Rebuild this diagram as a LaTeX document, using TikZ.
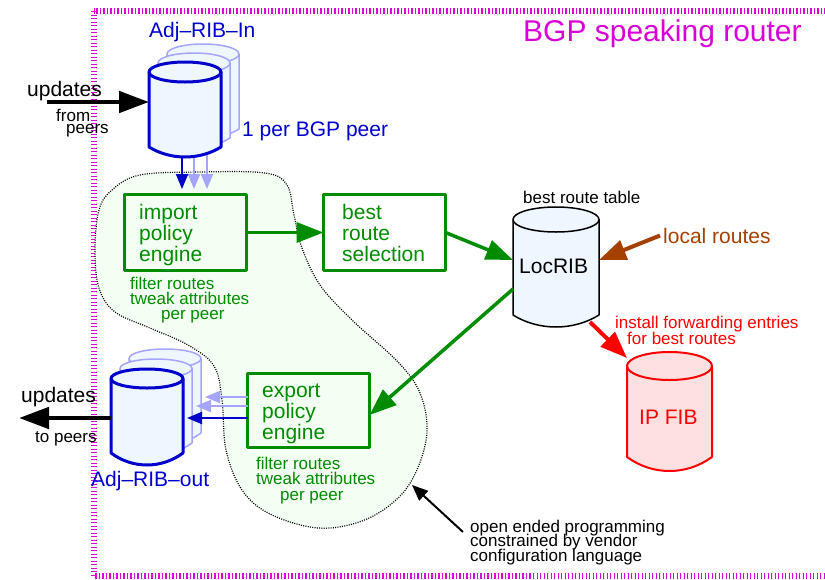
\documentclass[tikz,border=0pt]{standalone}
\usepackage{fontspec}
\setmainfont{Liberation Sans}
\usetikzlibrary{arrows.meta,calc}

\definecolor{framemag}{RGB}{215,0,215}
\definecolor{ribblue}{RGB}{0,0,205}
\definecolor{ribpale}{RGB}{165,165,255}
\definecolor{drumfill}{RGB}{238,246,255}
\definecolor{polgreen}{RGB}{0,140,0}
\definecolor{zonefill}{RGB}{243,255,243}
\definecolor{localbrown}{RGB}{165,65,0}
\definecolor{fibred}{RGB}{255,0,0}
\definecolor{fibfill}{RGB}{255,224,224}

\newcommand\bigsz{\fontsize{30}{36}\selectfont}
\newcommand\midsz{\fontsize{21}{21}\selectfont\lineskiplimit=-100pt}
\newcommand\smallsz[1]{\fontsize{17}{#1}\selectfont\lineskiplimit=-100pt}
\newcommand\firstline{\rule{0pt}{25pt}}

% database drum: #1 north-west corner, #2 south-east corner,
% #3 radius of the top ellipse, #4 sag of the bottom edge, #5 style
\newcommand\drum[5]{%
  \path[#5] let \p1=#1, \p2=#2, \n1={(\x2-\x1)/2} in
    (\x2,{\y1-#3pt}) -- (\x2,{\y2+#4pt})
    .. controls ({\x2-0.6*\n1},{\y2-#4pt/3}) and ({\x1+0.6*\n1},{\y2-#4pt/3}) .. (\x1,{\y2+#4pt})
    -- (\x1,{\y1-#3pt}) arc[start angle=180,end angle=0,x radius={\n1*1pt},y radius=#3pt] -- cycle;
  \path[#5,fill=none] let \p1=#1, \p2=#2, \n1={(\x2-\x1)/2} in
    (\x1,{\y1-#3pt}) arc[start angle=180,end angle=360,x radius={\n1*1pt},y radius=#3pt];
}

\begin{document}
\begin{tikzpicture}[x=1pt,y=-1pt,line join=round,
  txt/.style={inner sep=0pt,anchor=base west},
  blk/.style={inner sep=0pt,anchor=north west,align=left},
  hold/.style={inner sep=0pt,outer sep=0pt},
  pbox/.style={draw=polgreen,line width=3.3pt,inner sep=0pt,outer sep=0pt},
  zone/.style={fill=zonefill,draw=black,line width=1.2pt,dash pattern=on 1pt off 1.3pt},
  frontdrum/.style={draw=ribblue,line width=3pt,fill=drumfill},
  backdrum/.style={draw=ribpale,line width=1.5pt,fill=drumfill},
  locdrum/.style={draw=black,line width=1.5pt,fill=drumfill},
  fibdrum/.style={draw=fibred,line width=2pt,fill=fibfill},
  garrow/.style={draw=polgreen,line width=3.5pt,-{Triangle[length=27pt,width=20pt]}},
  brarrow/.style={draw=localbrown,line width=4pt,-{Triangle[length=27pt,width=20pt]}},
  redarrow/.style={draw=fibred,line width=4pt,-{Triangle[length=27pt,width=20pt]}},
  bigarrow/.style={draw=black,line width=4.8pt,-{Triangle[length=30pt,width=21pt]}},
  darkarrow/.style={draw=ribblue,line width=2pt,-{Triangle[length=15pt,width=12pt]}},
  palearrow/.style={draw=ribpale,line width=2pt,-{Triangle[length=15pt,width=12pt]}},
  notearrow/.style={draw=black,line width=2pt,-{Triangle[length=16pt,width=13pt]}}
]
\useasboundingbox (0,0) rectangle (825,579);

% router boundary
\draw[framemag,line width=6pt,dash pattern=on 1.1pt off 2.4pt] (93.5,11) rectangle (829,576);

% policy zone
\draw[zone] plot[smooth cycle,tension=0.6] coordinates {
  (112,190) (140,175) (200,172) (265,173) (287,185) (294,215) (302,248)
  (320,285) (352,320) (398,362) (420,393) (427,432) (416,472) (396,500)
  (362,521) (318,528) (270,514) (242,490) (226,450) (222,400) (214,366)
  (188,345) (150,328) (115,312) (99,288) (95,250) (99,210)};

% processing boxes
\node[pbox,minimum width=122pt,minimum height=76pt] (imp) at (185.5,232.5) {};
\node[pbox,minimum width=122pt,minimum height=76pt] (best) at (384.5,232.5) {};
\node[pbox,minimum width=122pt,minimum height=74pt] (exp) at (308.5,410.5) {};
\node[blk,text=polgreen,font=\midsz] (imptext) at (139,194) {\firstline import\\policy\\engine};
\node[blk,text=polgreen,font=\midsz] (besttext) at (342,194) {\firstline best\\route\\selection};
\node[blk,text=polgreen,font=\midsz] (exptext) at (262,372) {\firstline export\\policy\\engine};
\node[blk,text=polgreen,font=\smallsz{15}] (impnote) at (130,264) {\firstline filter routes\\tweak attributes\\\hspace*{31pt}per peer};
\node[blk,text=polgreen,font=\smallsz{15.5}] (expnote) at (256,444) {\firstline filter routes\\tweak attributes\\\hspace*{24pt}per peer};

% Adj-RIB-In stack
\node[hold,minimum width=72pt,minimum height=95pt] (rin) at (185,109.5) {};
\coordinate (rinBase) at ([yshift=8pt]rin.south);
\coordinate (dn1) at (182,189);
\coordinate (dn2) at (194,189);
\coordinate (dn3) at (207,189);
\drum{([shift={(18,-18)}]rin.north west)}{([shift={(18,-18)}]rin.south east)}{10}{10}{backdrum}
\drum{([shift={(9,-9)}]rin.north west)}{([shift={(9,-9)}]rin.south east)}{10}{10}{backdrum}
\draw[palearrow] (dn3 |- rinBase) -- (dn3);
\draw[palearrow] (dn2 |- rinBase) -- (dn2);
\drum{(rin.north west)}{(rin.south east)}{10}{10}{frontdrum}
\draw[darkarrow] (dn1 |- rin.south) -- (dn1);

% Adj-RIB-out stack
\node[hold,minimum width=72pt,minimum height=96pt] (rout) at (147,417) {};
\coordinate (lf1) at (187,418);
\coordinate (lf2) at (196,406);
\coordinate (lf3) at (205,397);
\drum{([shift={(18,-20)}]rout.north west)}{([shift={(18,-20)}]rout.south east)}{9.5}{12}{backdrum}
\drum{([shift={(9,-10)}]rout.north west)}{([shift={(9,-10)}]rout.south east)}{9.5}{12}{backdrum}
\drum{(rout.north west)}{(rout.south east)}{9.5}{12}{frontdrum}
\draw[palearrow] (exp.west |- lf3) -- (lf3);
\draw[palearrow] (exp.west |- lf2) -- (lf2);
\draw[darkarrow] (exp.west |- lf1) -- (lf1);

% LocRIB and FIB
\node[hold,minimum width=86pt,minimum height=120pt] (loc) at (556,267) {};
\drum{(loc.north west)}{(loc.south east)}{12.5}{12}{locdrum}
\node[hold,minimum width=85pt,minimum height=119pt] (fib) at (669.5,411.5) {};
\drum{(fib.north west)}{(fib.south east)}{14}{14}{fibdrum}

% labels
\node[txt,text=framemag,font=\bigsz] (title) at (523,41) {BGP speaking router};
\node[txt,text=ribblue,font=\midsz] (rinlabel) at (149,37) {Adj–RIB–In};
\node[txt,text=ribblue,font=\midsz] (perpeer) at (242,136) {1 per BGP peer};
\node[txt,font=\midsz] (updin) at (27,96) {updates};
\node[txt,font=\smallsz{17}] (fromlbl) at (56,121) {from};
\node[txt,font=\smallsz{17}] (peerslbl) at (66,133) {peers};
\node[txt,font=\smallsz{17}] (brt) at (523,203) {best route table};
\node[txt,font=\midsz] (loclbl) at (519,273) {LocRIB};
\node[txt,text=localbrown,font=\midsz] (lr) at (663,243) {local routes};
\node[blk,text=fibred,font=\smallsz{16}] (inst) at (615,303) {\firstline install forwarding entries\\\hspace*{12pt}for best routes};
\node[txt,text=fibred,font=\midsz] (fiblbl) at (639,424) {IP FIB};
\node[txt,font=\midsz] (updout) at (21,402) {updates};
\node[txt,font=\smallsz{17}] (topeers) at (35,442) {to peers};
\node[txt,text=ribblue,font=\midsz] (routlabel) at (91,486) {Adj–RIB–out};
\node[blk,font=\smallsz{14.5}] (oe) at (470,507) {\firstline open ended programming\\constrained by vendor\\configuration language};

% flows
\coordinate (inTail) at (47,102);
\draw[bigarrow] (inTail) -- (inTail -| rin.west);
\coordinate (outTip) at (19,418);
\draw[bigarrow] (outTip -| rout.west) -- (outTip);
\draw[garrow] (imp.east) -- (best.west);
\draw[garrow] (best.east) -- ([yshift=7pt]loc.west);
\draw[garrow] ([yshift=-22pt]loc.west) -- ([yshift=-4.5pt]exp.east);
\draw[brarrow] ([xshift=-3pt]lr.west) -- ([yshift=7pt]loc.east);
\draw[redarrow] ([xshift=-9pt,yshift=5pt]loc.south east) -- ([yshift=-6pt]fib.north west);
\coordinate (oeTail) at (463,532);
\coordinate (zoneEdge) at (412,485);
\draw[notearrow] (oeTail) -- (zoneEdge);
\end{tikzpicture}
\end{document}
